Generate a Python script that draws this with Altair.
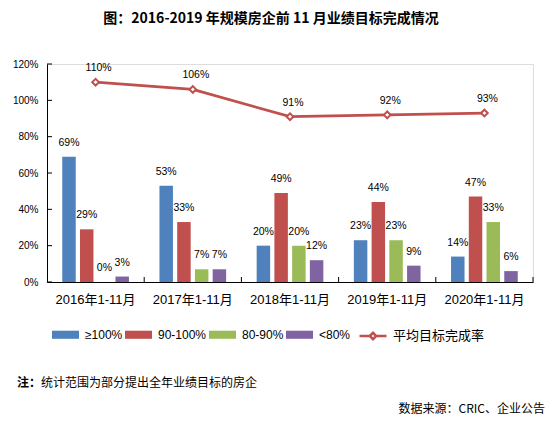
import altair as alt
import pandas as pd

# ---- data ----
years = ["2016年1-11月", "2017年1-11月", "2018年1-11月", "2019年1-11月", "2020年1-11月"]
groups = ["≥100%", "90-100%", "80-90%", "<80%"]
share_ge100 = [69, 53, 20, 23, 14]
share_90_100 = [29, 33, 49, 44, 47]
share_80_90 = [0, 7, 20, 23, 33]
share_lt80 = [3, 7, 12, 9, 6]
avg_rate = [110, 106, 91, 92, 93]
avg_name = "平均目标完成率"
y_ticks = [0, 20, 40, 60, 80, 100, 120]

title_text = "图：2016-2019 年规模房企前 11 月业绩目标完成情况"
note_head = ["注："]
note_body = ["统计范围为部分提出全年业绩目标的房企"]
source_text = ["数据来源：CRIC、企业公告"]

bar_colors = ["#4F81BD", "#C0504D", "#9BBB59", "#8064A2"]
line_color = "#C0504D"
LATIN = "'Liberation Sans', 'Noto Sans CJK SC'"
CJK = "'Noto Sans CJK SC'"

RECT = "M-1,-0.3L1,-0.3L1,0.3L-1,0.3Z"
LINE_SYM = "M-1,0L-0.24,0M0.24,0L1,0M-0.24,0L0,-0.24L0.24,0L0,0.24Z"

rows = []
for g, vals in zip(groups, [share_ge100, share_90_100, share_80_90, share_lt80]):
    for yr, v in zip(years, vals):
        rows.append({"year": yr, "group": g, "value": v, "label": f"{v}%"})
bars_df = pd.DataFrame(rows)

line_df = pd.DataFrame({
    "year": years,
    "value": avg_rate,
    "label": [f"{v}%" for v in avg_rate],
    "series": avg_name,
})


def x_enc(**kw):
    return alt.X(
        "year:N", sort=years, title=None,
        scale=alt.Scale(paddingInner=0, paddingOuter=0),
        axis=alt.Axis(ticks=False, tickSize=0, labelPadding=11, labelFontSize=13,
                      labelFont=LATIN, labelColor="black", domainColor="black",
                      labelAngle=0, grid=False),
        **kw,
    )


def y_enc():
    return alt.Y(
        "value:Q", title=None,
        scale=alt.Scale(domain=[0, 120], nice=False),
        axis=alt.Axis(values=y_ticks, labelExpr="datum.value + '%'", ticks=False,
                      tickSize=0, labelPadding=9, labelFontSize=10, labelFont=LATIN,
                      labelColor="black", domainColor="black", grid=False),
    )


x_off = alt.XOffset("group:N", sort=groups,
                    scale=alt.Scale(paddingInner=0.24, paddingOuter=0.86))

bars = alt.Chart(bars_df).mark_bar().encode(
    x=x_enc(),
    xOffset=x_off,
    y=y_enc(),
    color=alt.Color(
        "group:N", sort=groups,
        scale=alt.Scale(domain=groups, range=bar_colors),
        legend=alt.Legend(orient="none", legendX=5, legendY=257, direction="horizontal",
                          columns=4, title=None, symbolType=RECT, symbolSize=729,
                          symbolStrokeWidth=0, labelFontSize=12, labelFont=LATIN,
                          labelColor="black", labelOffset=6, columnPadding=2, padding=0),
    ),
)

bar_text = alt.Chart(bars_df).mark_text(
    dy=-14, fontSize=10.5, font=LATIN, color="black"
).encode(x=x_enc(), xOffset=x_off, y=y_enc(), text="label:N")

line = alt.Chart(line_df).mark_line(
    strokeWidth=2.75,
    point=alt.OverlayMarkDef(shape="diamond", size=45, filled=True, fill="white", strokeWidth=2),
).encode(
    x=x_enc(),
    y=y_enc(),
    stroke=alt.Stroke(
        "series:N",
        scale=alt.Scale(domain=[avg_name], range=[line_color]),
        legend=alt.Legend(orient="none", legendX=311, legendY=257, title=None,
                          symbolType=LINE_SYM, symbolSize=729, symbolStrokeWidth=2.5,
                          symbolFillColor="white", labelFontSize=13, labelFont=CJK,
                          labelColor="black", labelOffset=5, padding=0),
    ),
)

line_text = alt.Chart(line_df).mark_text(
    dy=-14, dx=3, fontSize=10.5, font=LATIN, color="black"
).encode(x=x_enc(), y=y_enc(), text="label:N")

# small inward ticks like the original axes
y_tick_rule = alt.Chart(pd.DataFrame({"value": y_ticks})).mark_rule(color="black").encode(
    y=y_enc(), x=alt.value(0), x2=alt.value(5)
)
x_tick_rule = alt.Chart(pd.DataFrame({"year": years})).mark_rule(color="black").encode(
    x=x_enc(bandPosition=1), y=alt.value(213), y2=alt.value(218)
)

note1 = alt.Chart(pd.DataFrame({"t": note_head})).mark_text(
    align="left", baseline="middle", fontSize=12, fontWeight="bold", font=CJK, color="black"
).encode(x=alt.value(-30), y=alt.value(319), text="t:N")
note2 = alt.Chart(pd.DataFrame({"t": note_body})).mark_text(
    align="left", baseline="middle", fontSize=12, font=CJK, color="black"
).encode(x=alt.value(-6), y=alt.value(319), text="t:N")
source = alt.Chart(pd.DataFrame({"t": source_text})).mark_text(
    align="right", baseline="middle", fontSize=12, font=CJK, color="black"
).encode(x=alt.value(498), y=alt.value(345), text="t:N")

chart = alt.layer(
    bars, bar_text, line, line_text, y_tick_rule, x_tick_rule, note1, note2, source
).properties(
    width=486,
    height=218,
    autosize=alt.AutoSizeParams(type="none"),
    padding={"left": 39, "top": 56, "right": 15, "bottom": 135},
    title=alt.TitleParams(title_text, fontSize=14, fontWeight="bold", font=CJK,
                          color="black", anchor="middle", dx=-19, offset=33),
).configure_view(stroke=None).configure(background="white")

chart.save("out.html", embed_options={"renderer": "svg", "actions": False})
